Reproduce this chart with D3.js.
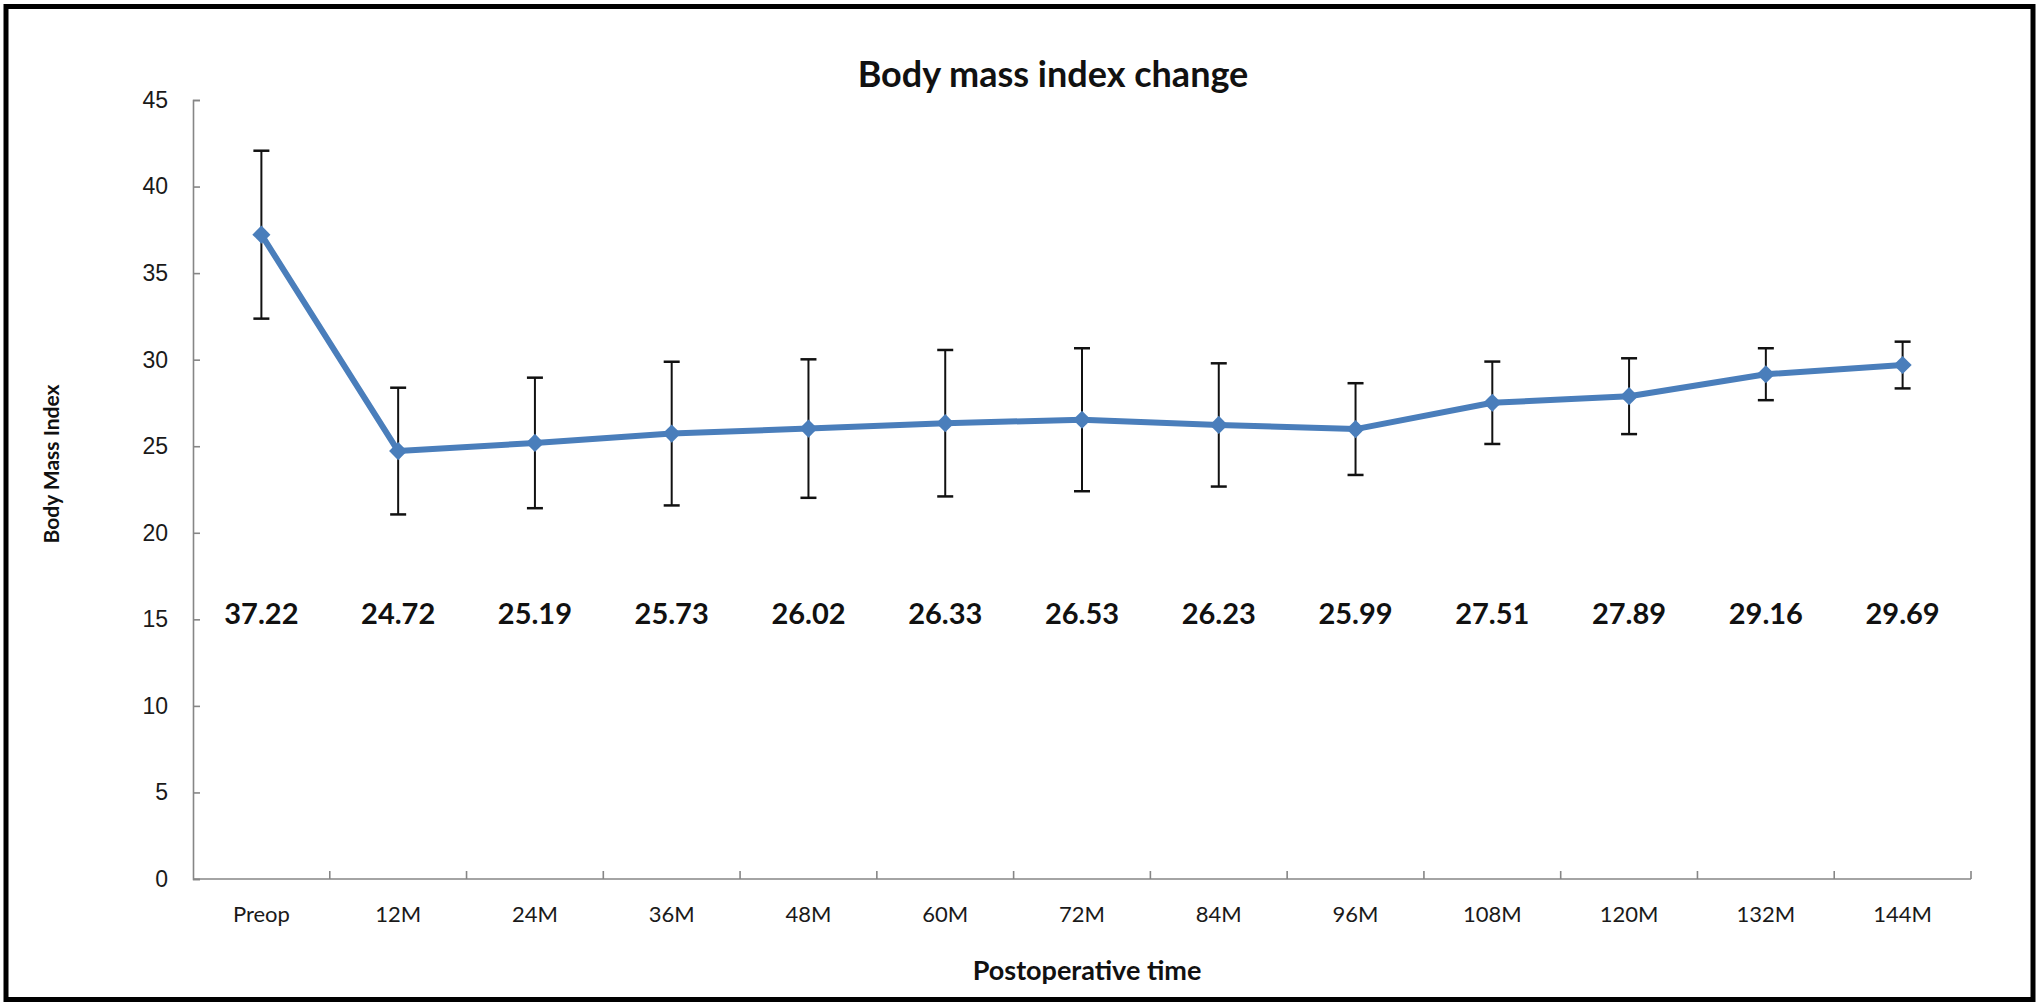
<!DOCTYPE html>
<html>
<head>
<meta charset="utf-8">
<script src="https://cdn.jsdelivr.net/npm/d3@7"></script>
<style>
  html, body { margin: 0; padding: 0; background: #fff; }
  svg { display: block; font-family: Lato, "Open Sans", sans-serif; }
</style>
</head>
<body>
<div id="chart"></div>
<script>
const periods = ['Preop', '12M', '24M', '36M', '48M', '60M', '72M', '84M', '96M', '108M', '120M', '132M', '144M'];
const bmiMean = [37.22, 24.72, 25.19, 25.73, 26.02, 26.33, 26.53, 26.23, 25.99, 27.51, 27.89, 29.16, 29.69];
const bmiSD = [4.85, 3.66, 3.77, 4.15, 4.0, 4.23, 4.13, 3.56, 2.65, 2.38, 2.19, 1.5, 1.35];
const yTicks = [0, 5, 10, 15, 20, 25, 30, 35, 40, 45];

const W = 2039, H = 1004;
const margin = {top: 100, right: 68, bottom: 125, left: 193};
const width = W - margin.left - margin.right;
const height = H - margin.top - margin.bottom;

const data = periods.map((p, i) => ({period: p, mean: bmiMean[i], sd: bmiSD[i]}));

const svg = d3.select("#chart").append("svg")
    .attr("width", W)
    .attr("height", H);

// outer frame
svg.append("rect")
    .attr("x", 6).attr("y", 6.5)
    .attr("width", W - 12).attr("height", H - 11)
    .attr("fill", "none")
    .attr("stroke", "#000")
    .attr("stroke-width", 5);

const g = svg.append("g")
    .attr("transform", "translate(" + margin.left + "," + margin.top + ")");

const xScale = d3.scaleBand()
    .domain(periods)
    .range([0, width]);

const yScale = d3.scaleLinear()
    .domain([0, 45])
    .range([height, 0]);

const axisColor = "#868686";

// y axis (ticks point inward, like the excel original)
const yAxis = g.append("g")
    .call(d3.axisRight(yScale).tickValues(yTicks).tickSize(7).tickFormat(d3.format("d")));
yAxis.select(".domain").attr("stroke", axisColor).attr("stroke-width", 1.6);
yAxis.selectAll(".tick line").attr("stroke", axisColor).attr("stroke-width", 1.6);
yAxis.selectAll(".tick text")
    .attr("x", -25)
    .attr("text-anchor", "end")
    .attr("fill", "#1a1a1a")
    .style("font-size", "23px");

// x axis: ticks at category boundaries
const xAxis = g.append("g")
    .attr("transform", "translate(0," + height + ")");
xAxis.append("line")
    .attr("x1", 0).attr("x2", width)
    .attr("stroke", axisColor).attr("stroke-width", 1.6);
xAxis.selectAll(".xtick")
    .data(d3.range(1, periods.length + 1))
    .enter().append("line")
    .attr("x1", (i) => i * xScale.step())
    .attr("x2", (i) => i * xScale.step())
    .attr("y1", 0).attr("y2", -8)
    .attr("stroke", axisColor).attr("stroke-width", 1.6);
xAxis.selectAll(".xlabel")
    .data(periods)
    .enter().append("text")
    .attr("x", (d) => xScale(d) + xScale.bandwidth() / 2)
    .attr("y", 35)
    .attr("dy", "0.35em")
    .attr("text-anchor", "middle")
    .attr("fill", "#1a1a1a")
    .style("font-size", "22px")
    .text((d) => d);

const cx = (d) => xScale(d.period) + xScale.bandwidth() / 2;

// error bars
const err = g.append("g").attr("stroke", "#111").attr("stroke-width", 2);
data.forEach((d) => {
    const x = cx(d);
    err.append("line")
        .attr("x1", x).attr("x2", x)
        .attr("y1", yScale(d.mean + d.sd)).attr("y2", yScale(d.mean - d.sd));
    [d.mean + d.sd, d.mean - d.sd].forEach((v) => {
        err.append("line")
            .attr("x1", x - 8).attr("x2", x + 8)
            .attr("y1", yScale(v)).attr("y2", yScale(v))
            .attr("stroke-width", 2.5);
    });
});

// mean line
const blue = "#4a7ebb";
g.append("path")
    .datum(data)
    .attr("fill", "none")
    .attr("stroke", blue)
    .attr("stroke-width", 6)
    .attr("stroke-linejoin", "round")
    .attr("d", d3.line().x(cx).y((d) => yScale(d.mean)));

// diamond markers
g.selectAll(".marker")
    .data(data)
    .enter().append("path")
    .attr("class", "marker")
    .attr("transform", (d) => "translate(" + cx(d) + "," + yScale(d.mean) + ")")
    .attr("d", d3.symbol().type(d3.symbolDiamond2).size(210))
    .attr("fill", blue);

// value labels
g.selectAll(".value")
    .data(data)
    .enter().append("text")
    .attr("x", cx)
    .attr("y", yScale(15.3))
    .attr("dy", "0.35em")
    .attr("text-anchor", "middle")
    .attr("fill", "#111")
    .style("font-size", "29px")
    .style("font-weight", "bold")
    .text((d) => d.mean.toFixed(2));

// titles
svg.append("text")
    .attr("x", 1053).attr("y", 74)
    .attr("dy", "0.35em")
    .attr("text-anchor", "middle")
    .attr("fill", "#111")
    .style("font-size", "36px")
    .style("font-weight", "bold")
    .text("Body mass index change");

svg.append("text")
    .attr("x", 1087).attr("y", 971)
    .attr("dy", "0.35em")
    .attr("text-anchor", "middle")
    .attr("fill", "#111")
    .style("font-size", "27px")
    .style("font-weight", "bold")
    .text("Postoperative time");

svg.append("text")
    .attr("transform", "translate(52,464) rotate(-90)")
    .attr("dy", "0.35em")
    .attr("text-anchor", "middle")
    .attr("fill", "#111")
    .style("font-size", "21px")
    .style("font-weight", "bold")
    .text("Body Mass Index");
</script>
</body>
</html>
